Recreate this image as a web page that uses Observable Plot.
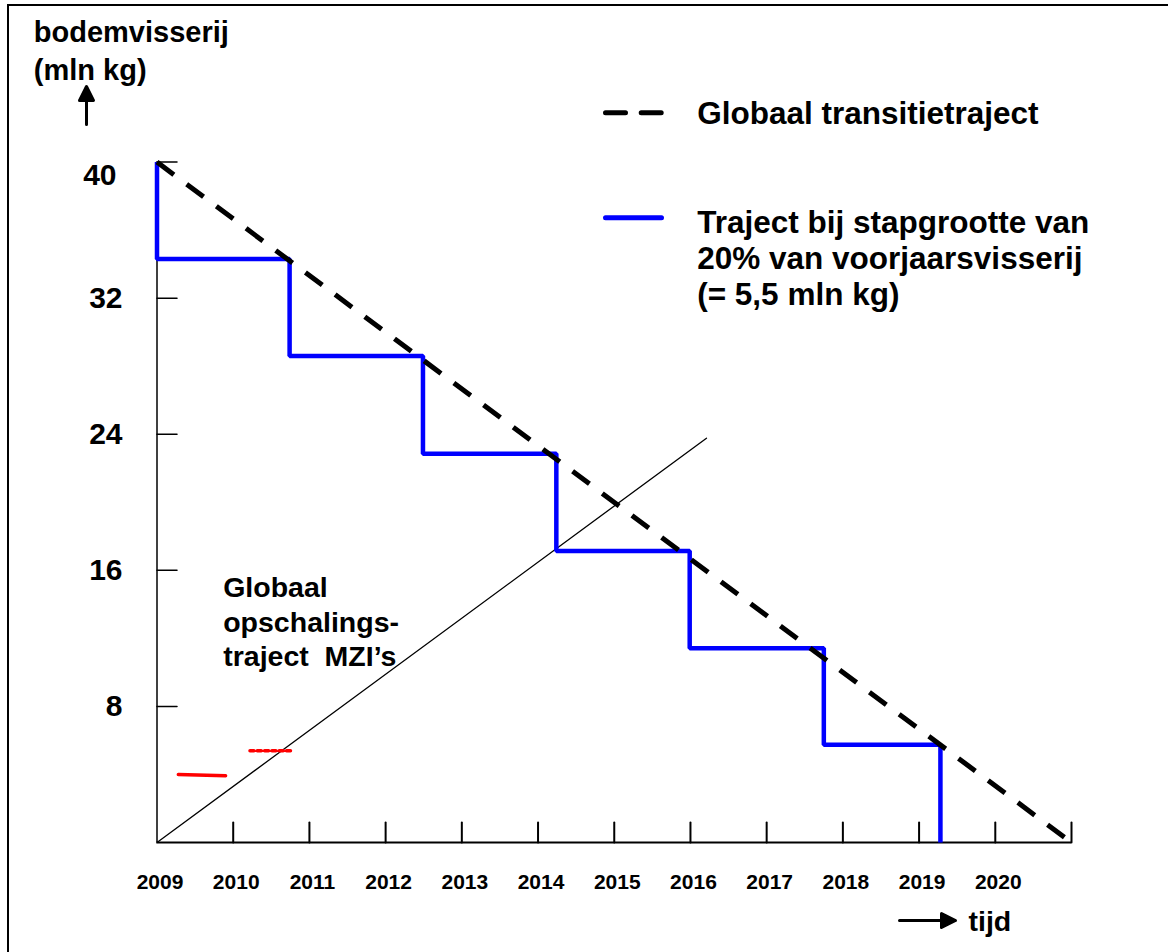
<!DOCTYPE html>
<html><head><meta charset="utf-8">
<script src="https://cdn.jsdelivr.net/npm/d3@7"></script>
<script src="https://cdn.jsdelivr.net/npm/@observablehq/plot@0.6"></script>
<style>
html,body{margin:0;padding:0;background:#fff;overflow:hidden;width:1168px;height:952px;}
#frame{position:absolute;left:7px;top:4px;width:1200px;height:1000px;border:2px solid #000;box-sizing:border-box;}
#chart{position:absolute;left:0;top:0;}
</style></head><body>
<div id="frame"></div>
<div id="chart"></div>
<script>
// ---- data ----
const yearLabels = [2009, 2010, 2011, 2012, 2013, 2014, 2015, 2016, 2017, 2018, 2019, 2020];
const xTickYears = [2010, 2011, 2012, 2013, 2014, 2015, 2016, 2017, 2018, 2019, 2020, 2021];
const yTickValues = [8, 16, 24, 32, 40];
const yLabelValues = [8, 16, 24, 32];
const yTopLabel = [40];
const xDomain = [2009, 2021];
const yDomain = [0, 40];

const transitionYears = [2009, 2021];
const transitionValues = [40, 0];

const stepStartYear = 2009;
const stepStartLevel = 40;
const stepYears = [2009, 2010.74, 2012.49, 2014.24, 2015.99, 2017.75, 2019.28];
const stepLevels = [34.3, 28.6, 22.85, 17.13, 11.42, 5.74, 0];

const scaleUpYears = [2009, 2016.21];
const scaleUpValues = [0, 23.77];

const redSolidYears = [2009.28, 2009.90];
const redSolidValues = [4.0, 3.92];
const redDottedYears = [2010.22, 2010.79];
const redDottedValues = [5.39, 5.39];

const yTitle = ["bodemvisserij\n(mln kg)"];
const xTitle = ["tijd"];
const legendDashed = ["Globaal transitietraject"];
const legendBlue = ["Traject bij stapgrootte van\n20% van voorjaarsvisserij\n(= 5,5 mln kg)"];
const scaleUpLabel = ["Globaal\nopschalings-\ntraject  MZI\u2019s"];

// ---- derived tables ----
const transition = transitionYears.map((x, i) => ({x, y: transitionValues[i]}));
const steps = [{x: stepStartYear, y: stepStartLevel}];
let prev = stepStartLevel;
stepYears.forEach((x, i) => { steps.push({x, y: prev}); steps.push({x, y: stepLevels[i]}); prev = stepLevels[i]; });
const scaleUp = scaleUpYears.map((x, i) => ({x, y: scaleUpValues[i]}));
const redSolid = redSolidYears.map((x, i) => ({x, y: redSolidValues[i]}));
const redDotted = redDottedYears.map((x, i) => ({x, y: redDottedValues[i]}));

// shapes
const lineShape = {draw(ctx, l) { ctx.moveTo(0, 0); ctx.lineTo(0, -l); }};
const arrowShape = {draw(ctx, l) {
  const hl = 14, hw = 7;
  ctx.moveTo(0, 0); ctx.lineTo(0, -l + hl);
  ctx.moveTo(-hw, -l + hl); ctx.lineTo(0, -l); ctx.lineTo(hw, -l + hl); ctx.closePath();
}};

const font = "'Liberation Sans', Arial, Helvetica, sans-serif";

const chart = Plot.plot({
  width: 1168, height: 952,
  marginLeft: 156.5, marginRight: 97, marginTop: 161.6, marginBottom: 110,
  x: {domain: xDomain, axis: null},
  y: {domain: yDomain, axis: null},
  style: {fontFamily: font, fontWeight: "bold", background: "transparent", color: "#000"},
  marks: [
    // axes
    Plot.ruleY([0], {x1: xDomain[0], x2: xDomain[1], stroke: "#000", strokeWidth: 2}),
    Plot.ruleX([xDomain[0]], {y1: yDomain[0], y2: yDomain[1], stroke: "#000", strokeWidth: 1.5}),
    Plot.vector(xTickYears, {x: d => d, y: 0, anchor: "start", length: 20, rotate: 0, shape: lineShape, stroke: "#000", strokeWidth: 2}),
    Plot.vector(yTickValues, {x: xDomain[0], y: d => d, anchor: "start", length: 20, rotate: 90, shape: lineShape, stroke: "#000", strokeWidth: 1.5}),
    Plot.text(yearLabels, {x: d => d, y: 0, text: d => String(d), dy: 39.6, dx: 3, fontSize: 21, fontWeight: "bold", fill: "#000", lineAnchor: "middle"}),
    Plot.text(yLabelValues, {x: xDomain[0], y: d => d, text: d => String(d), dx: -34.5, textAnchor: "end", fontSize: 30, fontWeight: "bold", fill: "#000", lineAnchor: "middle"}),
    Plot.text(yTopLabel, {x: xDomain[0], y: d => d, text: d => String(d), dx: -40.5, dy: 13.5, textAnchor: "end", fontSize: 30, fontWeight: "bold", fill: "#000", lineAnchor: "middle"}),

    // series
    Plot.line(scaleUp, {x: "x", y: "y", stroke: "#000", strokeWidth: 1.3}),
    Plot.line(redSolid, {x: "x", y: "y", stroke: "#ff0000", strokeWidth: 3.5}),
    Plot.line(redDotted, {x: "x", y: "y", stroke: "#ff0000", strokeWidth: 3.5, strokeDasharray: "4,3.3"}),
    Plot.line(steps, {x: "x", y: "y", stroke: "#0000ff", strokeWidth: 4.5, strokeLinejoin: "miter", strokeLinecap: "butt"}),
    Plot.line(transition, {x: "x", y: "y", stroke: "#000", strokeWidth: 5, strokeDasharray: "21,16", strokeLinecap: "butt"}),

    // annotation text
    Plot.text(scaleUpLabel, {frameAnchor: "top-left", dx: 66.2, dy: 411, text: d => d, textAnchor: "start", lineAnchor: "top", fontSize: 28.5, lineHeight: 1.2, fontWeight: "bold", fill: "#000"}),

    // legend
    Plot.vector([0], {frameAnchor: "top-left", dx: 448.5, dy: -49.3, anchor: "start", length: 56, rotate: 90, shape: lineShape, stroke: "#000", strokeWidth: 5, strokeDasharray: "20,15.7"}),
    Plot.text(legendDashed, {frameAnchor: "top-left", dx: 540.2, dy: -60.8, text: d => d, textAnchor: "start", lineAnchor: "top", fontSize: 31.5, fontWeight: "bold", fill: "#000"}),
    Plot.vector([0], {frameAnchor: "top-left", dx: 448.5, dy: 55.7, anchor: "start", length: 56, rotate: 90, shape: lineShape, stroke: "#0000ff", strokeWidth: 5}),
    Plot.text(legendBlue, {frameAnchor: "top-left", dx: 540.2, dy: 45.2, text: d => d, textAnchor: "start", lineAnchor: "top", fontSize: 31.5, lineHeight: 1.143, fontWeight: "bold", fill: "#000"}),

    // axis titles and arrows
    Plot.text(yTitle, {frameAnchor: "top-left", dx: -123.2, dy: -146.5, text: d => d, textAnchor: "start", lineAnchor: "top", fontSize: 29, lineHeight: 1.29, fontWeight: "bold", fill: "#000"}),
    Plot.vector([0], {frameAnchor: "top-left", dx: -70.5, dy: -37.6, anchor: "start", length: 38, rotate: 0, shape: arrowShape, stroke: "#000", fill: "#000", strokeWidth: 3}),
    Plot.vector([0], {frameAnchor: "top-left", dx: 742.5, dy: 758.4, anchor: "start", length: 56, rotate: 90, shape: arrowShape, stroke: "#000", fill: "#000", strokeWidth: 3}),
    Plot.text(xTitle, {frameAnchor: "top-left", dx: 811.5, dy: 759.5, text: d => d, textAnchor: "start", lineAnchor: "middle", fontSize: 28.5, fontWeight: "bold", fill: "#000"})
  ]
});
document.getElementById("chart").appendChild(chart);
</script>
</body></html>
